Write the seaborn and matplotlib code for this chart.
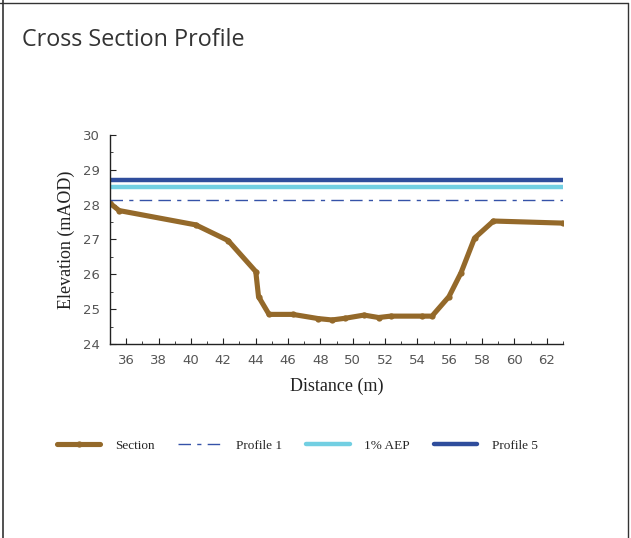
import numpy as np
import pandas as pd
import seaborn as sns
import matplotlib.pyplot as plt
from matplotlib.lines import Line2D
from matplotlib.ticker import MultipleLocator

# ground profile
distance = [35.0, 35.57, 40.3, 42.3, 44.01, 44.18, 44.83, 46.3, 47.86, 48.72,
            49.55, 50.7, 51.6, 52.35, 54.28, 54.9, 55.95, 56.7, 57.53, 58.7, 63.0]
elevation = [28.04, 27.83, 27.42, 26.97, 26.08, 25.36, 24.85, 24.85, 24.73, 24.69,
             24.74, 24.83, 24.76, 24.80, 24.80, 24.80, 25.36, 26.05, 27.04, 27.53, 27.47]

# water levels
level_names = ['Profile 1', '1% AEP', 'Profile 5']
level_values = [28.13, 28.52, 28.70]

brown = '#94692A'
c_prof1 = '#3552A8'
c_aep = '#72CFE2'
c_prof5 = '#2F4D9C'

df = pd.DataFrame({'distance': distance, 'elevation': elevation})

sns.set_theme(style="white")
plt.rcParams['font.family'] = ['DejaVu Sans']

fig = plt.figure(figsize=(6.31, 5.38), dpi=100)
ax = fig.add_axes([0.1743, 0.3606, 0.7180, 0.3885])

sns.lineplot(data=df, x='distance', y='elevation', ax=ax, color=brown,
             linewidth=3.7, marker='o', markersize=4.5, markeredgewidth=0,
             label='Section')

ax.axhline(level_values[0], color=c_prof1, linewidth=1.0,
           dashes=(9, 4.5, 3, 4.5, 9, 4.5), label=level_names[0])
ax.axhline(level_values[1], color=c_aep, linewidth=3.2, label=level_names[1])
ax.axhline(level_values[2], color=c_prof5, linewidth=3.2, label=level_names[2])

ax.set_xlim(35, 63)
ax.set_ylim(24, 30)
ax.xaxis.set_major_locator(MultipleLocator(2))
ax.xaxis.set_minor_locator(MultipleLocator(1))
ax.yaxis.set_major_locator(MultipleLocator(1))
ax.yaxis.set_minor_locator(MultipleLocator(0.5))
ax.set_xticks(np.arange(36, 63, 2))

for s in ['top', 'right']:
    ax.spines[s].set_visible(False)
for s in ['left', 'bottom']:
    ax.spines[s].set_color('#222222')
    ax.spines[s].set_linewidth(1.0)

ax.tick_params(which='both', direction='in', color='#222222', left=True, bottom=True)
ax.tick_params(which='major', length=4, width=0.8, labelsize=9.5, labelcolor='#555555', pad=7)
ax.tick_params(which='minor', length=2.5, width=0.6)

ax.set_xlabel('Distance (m)', family='Liberation Serif', fontsize=13, color='#222222', labelpad=8)
ax.set_ylabel('Elevation (mAOD)', family='Liberation Serif', fontsize=13, color='#222222', labelpad=6)

ax.get_legend().remove()
handles, labels = ax.get_legend_handles_labels()
fig.legend(handles, labels, loc='center', bbox_to_anchor=(0.471, 0.172), ncol=4,
           frameon=False, handlelength=3.3, columnspacing=1.8, handletextpad=1.1,
           prop={'family': 'Liberation Serif', 'size': 9.5})

fig.text(0.035, 0.926, 'Cross Section Profile', fontsize=16.8, color='#333333',
         family='Open Sans', va='center')

# panel frame
fig.add_artist(Line2D([0.005, 0.005], [0, 1], color='#333333', linewidth=1.2))
fig.add_artist(Line2D([0, 0.995], [0.994, 0.994], color='#333333', linewidth=1.0))
fig.add_artist(Line2D([0.995, 0.995], [0, 0.994], color='#333333', linewidth=1.0))

fig.savefig('out.png', dpi=100)
